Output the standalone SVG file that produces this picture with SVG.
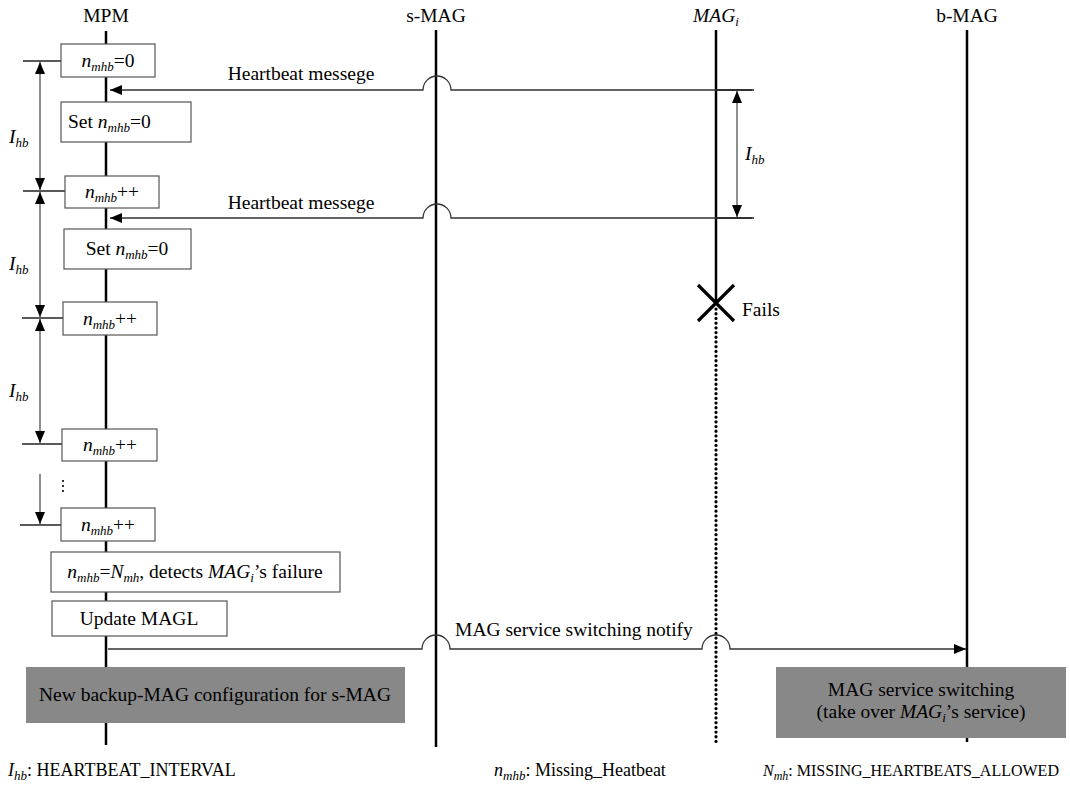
<svg xmlns="http://www.w3.org/2000/svg" width="1070" height="785" viewBox="0 0 1070 785">
<style>
.t{font-family:"Liberation Serif","Times New Roman",serif;font-size:19.5px;fill:#000}
.lg{font-size:18px}
.lg2{font-size:16px}
.i{font-style:italic}
.s{font-size:13px;font-style:italic}
.s2{font-size:12px;font-style:italic}
.box{fill:#fff;stroke:#555;stroke-width:1.2}
.gbox{fill:#888;stroke:none}
.life{stroke:#000;stroke-width:2.5;fill:none}
.msg{stroke:#333;stroke-width:1.3;fill:none}
.dim{stroke:#444;stroke-width:1.2;fill:none}
.tick{stroke:#222;stroke-width:1.5;fill:none}
</style>
<defs>
<marker id="ah" markerUnits="userSpaceOnUse" markerWidth="14" markerHeight="12" refX="12" refY="5" orient="auto">
<path d="M0,0 L12,5 L0,10 Z" fill="#000"/>
</marker>
<marker id="dh" markerUnits="userSpaceOnUse" markerWidth="14" markerHeight="12" refX="12" refY="5" orient="auto-start-reverse">
<path d="M0,0 L12,5 L0,10 Z" fill="#000"/>
</marker>
</defs>
<rect width="1070" height="785" fill="#fff"/>

<g id="lifelines">
<line class="life" x1="106" y1="31" x2="106" y2="745"/>
<line class="life" x1="436" y1="30" x2="436" y2="747"/>
<line class="life" x1="716" y1="30" x2="716" y2="303"/>
<line x1="716" y1="309" x2="716" y2="743" stroke="#000" stroke-width="3.2" stroke-linecap="round" stroke-dasharray="0.1 4.6"/>
<line class="life" x1="967" y1="30" x2="967" y2="742"/>
<text class="t" x="106" y="22" text-anchor="middle">MPM</text>
<text class="t" x="436" y="22" text-anchor="middle">s-MAG</text>
<text class="t i" x="716" y="22" text-anchor="middle">MAG<tspan class="s" dy="4">i</tspan></text>
<text class="t" x="967" y="22" text-anchor="middle">b-MAG</text>
</g>

<g id="connectors">
<path class="msg" d="M752 90 H451 A14 14 0 0 0 423 90 H110" marker-end="url(#ah)"/>
<path class="msg" d="M752 218 H451 A14 14 0 0 0 423 218 H110" marker-end="url(#ah)"/>
<path class="msg" d="M108 649 H422 A14 14 0 0 1 450 649 H702 A14 14 0 0 1 730 649 H966" marker-end="url(#ah)"/>
<text class="t" x="301" y="80" text-anchor="middle">Heartbeat messege</text>
<text class="t" x="301" y="209" text-anchor="middle">Heartbeat messege</text>
<text class="t" x="574" y="636" text-anchor="middle">MAG service switching notify</text>
</g>

<g id="dimensions">
<line class="tick" x1="23" y1="61" x2="61" y2="61"/>
<line class="tick" x1="23" y1="191" x2="65" y2="191"/>
<line class="tick" x1="22" y1="318" x2="63" y2="318"/>
<line class="tick" x1="22" y1="444" x2="62" y2="444"/>
<line class="tick" x1="20" y1="525" x2="61" y2="525"/>
<line class="dim" x1="40" y1="62" x2="40" y2="190" marker-start="url(#dh)" marker-end="url(#dh)"/>
<line class="dim" x1="40" y1="192" x2="40" y2="317" marker-start="url(#dh)" marker-end="url(#dh)"/>
<line class="dim" x1="40" y1="319" x2="40" y2="443" marker-start="url(#dh)" marker-end="url(#dh)"/>
<line class="dim" x1="40" y1="474" x2="40" y2="524" marker-end="url(#dh)"/>
<text class="t i" x="9" y="143">I<tspan class="s" dy="4">hb</tspan></text>
<text class="t i" x="9" y="270">I<tspan class="s" dy="4">hb</tspan></text>
<text class="t i" x="9" y="397">I<tspan class="s" dy="4">hb</tspan></text>
<g fill="#000"><circle cx="63" cy="481" r="1.1"/><circle cx="63" cy="486" r="1.1"/><circle cx="63" cy="491" r="1.1"/></g>
<line class="tick" x1="716" y1="90" x2="754" y2="90"/>
<line class="tick" x1="716" y1="218" x2="754" y2="218"/>
<line class="dim" x1="737" y1="91" x2="737" y2="217" marker-start="url(#dh)" marker-end="url(#dh)"/>
<text class="t i" x="745" y="160">I<tspan class="s" dy="4">hb</tspan></text>
</g>

<g id="fail">
<path d="M698 285 L734 321 M734 285 L698 321" stroke="#000" stroke-width="3.2" fill="none"/>
<text class="t" x="742" y="316">Fails</text>
</g>

<g id="n1"><rect class="box" x="61" y="44" width="94" height="33"/>
<text class="t" x="108" y="67" text-anchor="middle"><tspan class="i">n</tspan><tspan class="s" dy="4">mhb</tspan><tspan dy="-4">=0</tspan></text></g>
<g id="n2"><rect class="box" x="61" y="102" width="130" height="40"/>
<text class="t" x="68" y="128">Set <tspan class="i">n</tspan><tspan class="s" dy="4">mhb</tspan><tspan dy="-4">=0</tspan></text></g>
<g id="n3"><rect class="box" x="65" y="176" width="94" height="32"/>
<text class="t" x="112" y="198" text-anchor="middle"><tspan class="i">n</tspan><tspan class="s" dy="4">mhb</tspan><tspan dy="-4">++</tspan></text></g>
<g id="n4"><rect class="box" x="64" y="229" width="127" height="40"/>
<text class="t" x="127" y="255" text-anchor="middle">Set <tspan class="i">n</tspan><tspan class="s" dy="4">mhb</tspan><tspan dy="-4">=0</tspan></text></g>
<g id="n5"><rect class="box" x="63" y="302" width="94" height="33"/>
<text class="t" x="110" y="325" text-anchor="middle"><tspan class="i">n</tspan><tspan class="s" dy="4">mhb</tspan><tspan dy="-4">++</tspan></text></g>
<g id="n6"><rect class="box" x="62" y="429" width="95" height="32"/>
<text class="t" x="110" y="451" text-anchor="middle"><tspan class="i">n</tspan><tspan class="s" dy="4">mhb</tspan><tspan dy="-4">++</tspan></text></g>
<g id="n7"><rect class="box" x="61" y="508" width="94" height="33"/>
<text class="t" x="108" y="531" text-anchor="middle"><tspan class="i">n</tspan><tspan class="s" dy="4">mhb</tspan><tspan dy="-4">++</tspan></text></g>
<g id="n8"><rect class="box" x="51" y="552" width="289" height="40"/>
<text class="t" x="195" y="578" text-anchor="middle"><tspan class="i">n</tspan><tspan class="s" dy="4">mhb</tspan><tspan dy="-4">=</tspan><tspan class="i">N</tspan><tspan class="s" dy="4">mh</tspan><tspan dy="-4">, detects </tspan><tspan class="i">MAG</tspan><tspan class="s" dy="4">i</tspan><tspan dy="-4">’s failure</tspan></text></g>
<g id="n9"><rect class="box" x="52" y="601" width="175" height="35"/>
<text class="t" x="139" y="625" text-anchor="middle">Update MAGL</text></g>
<g id="n10"><rect class="gbox" x="26" y="667" width="379" height="56"/>
<text class="t" x="215" y="701" text-anchor="middle">New backup-MAG configuration for s-MAG</text></g>
<g id="n11"><rect class="gbox" x="776" y="667" width="290" height="71"/>
<text class="t" x="921" y="696" text-anchor="middle">MAG service switching</text>
<text class="t" x="921" y="718" text-anchor="middle">(take over <tspan class="i">MAG</tspan><tspan class="s" dy="4">i</tspan><tspan dy="-4">’s service)</tspan></text></g>

<g id="legend">
<text class="t lg" x="8" y="776"><tspan class="i">I</tspan><tspan class="s" dy="4">hb</tspan><tspan dy="-4">: HEARTBEAT_INTERVAL</tspan></text>
<text class="t lg" x="494" y="776"><tspan class="i">n</tspan><tspan class="s" dy="4">mhb</tspan><tspan dy="-4">: Missing_Heatbeat</tspan></text>
<text class="t lg2" x="763" y="776"><tspan class="i">N</tspan><tspan class="s2" dy="4">mh</tspan><tspan dy="-4">: MISSING_HEARTBEATS_ALLOWED</tspan></text>
</g>
</svg>
